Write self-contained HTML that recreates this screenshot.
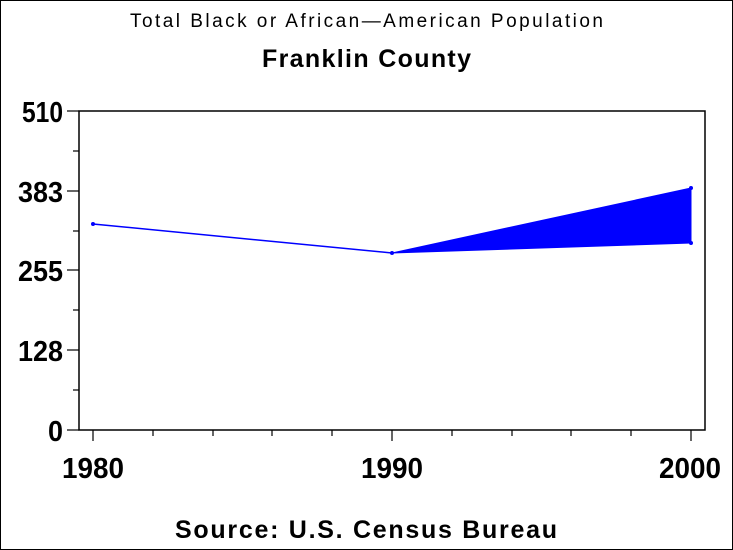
<!DOCTYPE html>
<html><head><style>
html,body{margin:0;padding:0;background:#fff}
svg{display:block}
text{font-family:"Liberation Sans",Arial,sans-serif;fill:#000}
</style></head><body>
<svg width="733" height="550" viewBox="0 0 733 550">
<rect x="0.5" y="0.5" width="732" height="549" fill="#fff" stroke="#000"/>
<text x="130" y="27" font-size="19" textLength="473" lengthAdjust="spacing">Total Black or African—American Population</text>
<text x="262" y="67" font-size="25" font-weight="bold" textLength="209" lengthAdjust="spacing">Franklin County</text>
<rect x="79" y="111" width="626" height="319" fill="none" stroke="#000" stroke-width="1.5"/>
<g stroke="#000" stroke-width="1.2">
<line x1="67" y1="111" x2="79" y2="111"/><line x1="73" y1="151" x2="79" y2="151"/>
<line x1="67" y1="191" x2="79" y2="191"/><line x1="73" y1="231" x2="79" y2="231"/>
<line x1="67" y1="270" x2="79" y2="270"/><line x1="73" y1="310" x2="79" y2="310"/>
<line x1="67" y1="350" x2="79" y2="350"/><line x1="73" y1="390" x2="79" y2="390"/>
<line x1="67" y1="430" x2="79" y2="430"/>
<line x1="93" y1="430" x2="93" y2="441"/><line x1="153" y1="430" x2="153" y2="436"/>
<line x1="213" y1="430" x2="213" y2="436"/><line x1="272" y1="430" x2="272" y2="436"/>
<line x1="332" y1="430" x2="332" y2="436"/><line x1="392" y1="430" x2="392" y2="441"/>
<line x1="452" y1="430" x2="452" y2="436"/><line x1="512" y1="430" x2="512" y2="436"/>
<line x1="571" y1="430" x2="571" y2="436"/><line x1="631" y1="430" x2="631" y2="436"/>
<line x1="691" y1="430" x2="691" y2="441"/>
</g>
<g font-size="29" font-weight="bold" lengthAdjust="spacingAndGlyphs">
<text x="22" y="122" textLength="41" lengthAdjust="spacingAndGlyphs">510</text>
<text x="18" y="202" textLength="45" lengthAdjust="spacingAndGlyphs">383</text>
<text x="18" y="281" textLength="45" lengthAdjust="spacingAndGlyphs">255</text>
<text x="18" y="361" textLength="45" lengthAdjust="spacingAndGlyphs">128</text>
<text x="48" y="441" textLength="15" lengthAdjust="spacingAndGlyphs">0</text>
<text x="62" y="478" textLength="62" lengthAdjust="spacingAndGlyphs">1980</text>
<text x="361" y="478" textLength="62" lengthAdjust="spacingAndGlyphs">1990</text>
<text x="659" y="478" textLength="62" lengthAdjust="spacingAndGlyphs">2000</text>
</g>
<polyline points="93,224 392,253" fill="none" stroke="#0000ff" stroke-width="1.5"/>
<polygon points="392,253 691,188 691,243" fill="#0000ff" stroke="#0000ff"/>
<g fill="#0000ff"><circle cx="93" cy="224" r="2"/><circle cx="392" cy="253" r="2"/><circle cx="691" cy="188" r="2"/><circle cx="691" cy="243" r="2"/></g>
<text x="175" y="538" font-size="25" font-weight="bold" textLength="382" lengthAdjust="spacing">Source: U.S. Census Bureau</text>
</svg>
</body></html>
